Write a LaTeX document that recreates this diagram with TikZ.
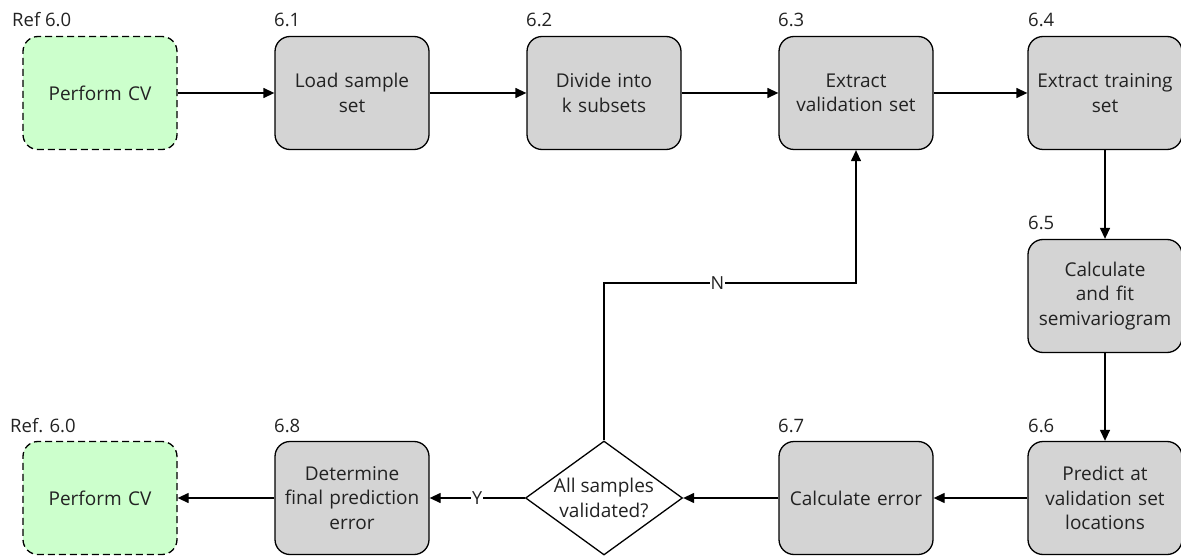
\documentclass[tikz,border=0pt]{standalone}
\usepackage{fontspec}
\setmainfont{Open Sans}
\usetikzlibrary{shapes.geometric,arrows.meta}
\definecolor{boxgray}{HTML}{D4D4D4}
\definecolor{refgreen}{HTML}{CCFFCC}
\definecolor{txt}{HTML}{222222}
\begin{document}
\begin{tikzpicture}[x=1pt,y=-1pt,
  every node/.style={font=\fontsize{19}{24.5}\selectfont, text=txt},
  proc/.style={draw, line width=1.3pt, rounded corners=15pt, fill=boxgray, minimum width=154pt, minimum height=113pt, align=center, text width=154pt, inner sep=0pt},
  refbox/.style={proc, fill=refgreen, dash pattern=on 7pt off 4pt},
  decision/.style={draw, line width=1.3pt, diamond, fill=white, minimum width=157pt, minimum height=114pt, align=center, inner sep=0pt, aspect=1.38},
  idlabel/.style={anchor=base west, inner sep=0pt, font=\fontsize{18.5}{22}\selectfont},
  flow/.style={line width=1.3pt, -{Triangle[length=11pt,width=10pt]}},
  lbl/.style={fill=white, inner sep=1pt, font=\fontsize{18}{22}\selectfont}
]
\useasboundingbox (0,0) rectangle (1181,556);
% top row
\node[refbox] (r0) at (100,93) {Perform CV};
\node[proc] (n1) at (352,93) {Load sample\\set};
\node[proc] (n2) at (604,93) {Divide into\\k subsets};
\node[proc] (n3) at (856,93) {Extract\\validation set};
\node[proc] (n4) at (1105,93) {Extract training\\set};
% right column
\node[proc] (n5) at (1105,296) {Calculate\\and fit\\semivariogram};
% bottom row
\node[proc] (n6) at (1105,498) {Predict at\\validation set\\locations};
\node[proc] (n7) at (856,498) {Calculate error};
\node[decision] (d) at (604,498) {All samples\\validated?};
\node[proc] (n8) at (352,498) {Determine\\final prediction\\error};
\node[refbox] (r1) at (100,498) {Perform CV};
% id labels
\node[idlabel] (l0) at (12,27) {Ref 6.0};
\node[idlabel] (l1) at (274,27) {6.1};
\node[idlabel] (l2) at (526,27) {6.2};
\node[idlabel] (l3) at (778,27) {6.3};
\node[idlabel] (l4) at (1028,27) {6.4};
\node[idlabel] (l5) at (1028,230) {6.5};
\node[idlabel] (l6) at (1028,432) {6.6};
\node[idlabel] (l7) at (778,432) {6.7};
\node[idlabel] (l8) at (274,432) {6.8};
\node[idlabel] (l9) at (10,432) {Ref. 6.0};
% connectors
\draw[flow] (r0) -- (n1);
\draw[flow] (n1) -- (n2);
\draw[flow] (n2) -- (n3);
\draw[flow] (n3) -- (n4);
\draw[flow] (n4) -- (n5);
\draw[flow] (n5) -- (n6);
\draw[flow] (n6) -- (n7);
\draw[flow] (n7) -- (d);
\draw[flow] (d) -- node[lbl] {Y} (n8);
\draw[flow] (n8) -- (r1);
\coordinate (c1) at (604,283);
\coordinate (c2) at (856,283);
\draw[flow] (d.north) -- (c1) -- node[lbl, pos=0.45] {N} (c2) -- (n3.south);
\end{tikzpicture}
\end{document}
